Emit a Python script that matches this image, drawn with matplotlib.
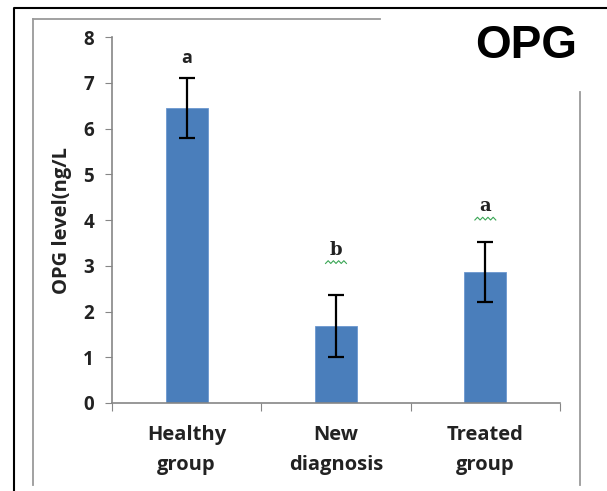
import matplotlib.pyplot as plt
import numpy as np
from matplotlib.lines import Line2D

groups = ["Healthy\ngroup", "New\ndiagnosis", "Treated\ngroup"]
opg_mean = [6.45, 1.68, 2.86]
opg_err = [0.66, 0.67, 0.66]
letters = ["a", "b", "a"]
letter_y = [7.55, 3.35, 4.3]
yticks = [0, 1, 2, 3, 4, 5, 6, 7, 8]

W, H = 607, 491
LABEL_FONT = "Open Sans"
fig = plt.figure(figsize=(W / 100, H / 100), dpi=100)
ax = fig.add_axes([112 / W, 1 - 403 / H, (560 - 112) / W, (403 - 37) / H])

x = np.arange(len(groups))
ax.bar(x, opg_mean, width=0.28, color="#4a7ebb", edgecolor="#6b97cf", linewidth=0.6, zorder=2)
ax.errorbar(x, opg_mean, yerr=opg_err, fmt="none", ecolor="black", elinewidth=1.6,
            capsize=6, capthick=1.6, zorder=3)

# significance letters; the last two carry a green spell-check squiggle
for i, (lab, ly) in enumerate(zip(letters, letter_y)):
    if i == 0:
        ax.text(x[i], ly, lab, ha="center", va="center", fontsize=13,
                fontweight="bold", family=LABEL_FONT, color="#222222")
    else:
        ax.text(x[i], ly, lab, ha="center", va="center", fontsize=13,
                fontweight="bold", family="DejaVu Serif", color="#222222")
        zx = x[i] + np.linspace(-0.07, 0.07, 9)
        zy = ly - 0.3 + np.tile([0.0, 0.06], 5)[:9]
        ax.plot(zx, zy, color="#3aa655", linewidth=0.8, zorder=4)

ax.set_xlim(-0.5, 2.5)
ax.set_ylim(0, 8)
ax.set_yticks(yticks)
ax.set_yticklabels([str(t) for t in yticks], fontsize=13.5, fontweight="bold", family=LABEL_FONT)
ax.set_xticks([-0.5, 0.5, 1.5, 2.5])
ax.set_xticklabels([])
ax.set_xticks(x, minor=True)
ax.set_xticklabels(groups, minor=True, fontsize=14.5, fontweight="bold", family=LABEL_FONT,
                   color="#222222", linespacing=1.65)
ax.tick_params(axis="x", which="minor", length=0, pad=16)
ax.tick_params(axis="x", which="major", length=6, color="#868686", direction="out")
ax.tick_params(axis="y", length=5, color="#868686", pad=8, labelcolor="#222222")

for side in ["top", "right"]:
    ax.spines[side].set_visible(False)
for side in ["left", "bottom"]:
    ax.spines[side].set_color("#868686")
    ax.spines[side].set_linewidth(1.2)

ax.set_ylabel("OPG level(ng/L", fontsize=14.5, fontweight="bold", family=LABEL_FONT,
              color="#222222", labelpad=8)

fig.text(526 / W, 1 - 46 / H, "OPG", ha="center", va="center", fontsize=33,
         fontweight="bold", family="Liberation Sans")


def fig_line(xs, ys, **kw):
    fig.add_artist(Line2D([v / W for v in xs], [1 - v / H for v in ys],
                          transform=fig.transFigure, **kw))


# outer black frame
fig_line([14, 14, W], [H, 8, 8], color="black", linewidth=1.5)
# inner grey chart-area frame
fig_line([33, 33], [H - 6, 19], color="#9a9a9a", linewidth=1.3)
fig_line([33, 380], [19, 19], color="#9a9a9a", linewidth=1.3)
fig_line([580, 580], [92, H - 6], color="#9a9a9a", linewidth=1.3)

fig.savefig("out.png", dpi=100)
